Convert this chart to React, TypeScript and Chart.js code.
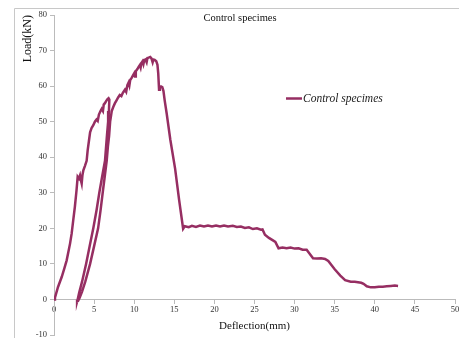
import React, { useEffect, useRef } from "react";
import { Chart, registerables } from "chart.js";

Chart.register(...registerables);

const chartTitle = "Control specimes";
const seriesName = "Control specimes";
const xTitle = "Deflection(mm)";
const yTitle = "Load(kN)";

// first loading branch
const loadX = [0, 0.12, 0.5, 0.96, 1.3, 1.58, 2.0, 2.2, 2.4, 2.6, 2.8, 2.95, 3.1, 3.24, 3.35, 3.45, 3.55, 3.66, 3.85, 4.07, 4.2, 4.35, 4.5, 4.7, 4.9, 5.1, 5.3, 5.45, 5.6, 5.8, 5.95, 6.1, 6.2, 6.35, 6.5, 6.65, 6.8, 6.9];
const loadY = [0, 0.5, 3.5, 6.3, 8.8, 11, 15.7, 18.5, 22.3, 26, 30.5, 34.5, 34.0, 34.9, 33.5, 32.6, 35.0, 36.3, 37.5, 39, 42, 44.5, 47, 48.3, 49, 50, 50.6, 50.2, 52, 53, 53.6, 53.0, 54.8, 55.2, 55.8, 56.3, 56.6, 56.2];
// unloading branch
const unloadX = [6.85, 6.75, 6.6, 6.36, 6.0, 5.65, 5.3, 4.9, 4.45, 4.0, 3.5, 3.15, 2.95, 2.88];
const unloadY = [53, 50, 46, 39, 34.5, 30, 25, 20, 15, 10, 5, 2, 0, -0.6];
// reloading branch up to peak
const reloadX = [3.0, 3.2, 3.5, 3.9, 4.5, 5.0, 5.5, 5.8, 6.07, 6.35, 6.57, 6.72, 6.87, 7.0, 7.2, 7.4, 7.6, 7.8, 8.0, 8.2, 8.4, 8.6, 8.85, 9.0, 9.15, 9.3, 9.4, 9.5, 9.7, 9.85, 10.0, 10.1, 10.2, 10.4, 10.55, 10.7, 10.8, 10.9, 11.05, 11.15, 11.25, 11.4, 11.55, 11.65, 11.8, 12.0];
const reloadY = [-0.4, 0.5, 2.2, 5, 10, 15, 20, 25, 30, 35, 39, 43, 46, 50, 53, 54.2, 55.2, 56.0, 56.8, 57.5, 57.2, 58.2, 59, 58.4, 60.3, 61, 60.2, 61.7, 62.4, 63, 63.6, 62.7, 64.2, 64.8, 65.4, 65.9, 65.2, 66.5, 67.0, 66.2, 67.3, 67.5, 66.7, 67.9, 68.0, 68.2];
// post-peak descent
const dropX = [12.15, 12.3, 12.4, 12.55, 12.75, 12.9, 13.0, 13.1, 13.2, 13.35, 13.5, 13.65, 13.8, 14.05, 14.5, 15.1, 15.6, 16.1];
const dropY = [67.8, 66.7, 67.5, 67.4, 67.0, 66.0, 63.5, 59.0, 59.6, 59.9, 59.7, 58.6, 56, 52.3, 45, 36.8, 28, 19.9];
// residual plateau and tail
const tailX = [16.3, 16.8, 17.2, 17.7, 18.2, 18.7, 19.2, 19.7, 20.2, 20.7, 21.2, 21.7, 22.3, 22.8, 23.3, 23.8, 24.3, 24.8, 25.3, 25.8, 26.0, 26.3, 26.8, 27.3, 27.6, 28.0, 28.5, 29.0, 29.5, 30.0, 30.5, 31.0, 31.5, 32.3, 32.8, 33.3, 33.8, 34.2, 35.0, 35.7, 36.3, 37.0, 37.5, 38.3, 38.6, 39.0, 39.5, 40.0, 40.5, 41.0, 41.5, 42.0, 42.5, 42.9];
const tailY = [20.6, 20.3, 20.7, 20.4, 20.8, 20.5, 20.8, 20.5, 20.8, 20.5, 20.8, 20.5, 20.7, 20.4, 20.5, 20.1, 20.3, 19.8, 20.0, 19.6, 19.7, 18.2, 17.3, 16.6, 16.2, 14.4, 14.6, 14.4, 14.6, 14.3, 14.4, 14.0, 14.0, 11.6, 11.5, 11.6, 11.4, 10.8, 8.5, 6.7, 5.4, 5.0, 5.0, 4.7, 4.4, 3.7, 3.4, 3.4, 3.6, 3.6, 3.7, 3.8, 3.9, 3.8];

const xTicks = [0, 5, 10, 15, 20, 25, 30, 35, 40, 45, 50];
const yTicks = [-10, 0, 10, 20, 30, 40, 50, 60, 70, 80];

const allX = [...loadX, ...unloadX, ...reloadX, ...dropX, ...tailX];
const allY = [...loadY, ...unloadY, ...reloadY, ...dropY, ...tailY];

const LINE = "#962E62";
const SERIF = "'Liberation Serif', 'DejaVu Serif', serif";

export default function App() {
  const ref = useRef<HTMLCanvasElement | null>(null);
  useEffect(() => {
    document.body.style.margin = "0";
    const canvas = ref.current!;
    const deco = {
      id: "deco",
      afterDraw(chart: any) {
        const ctx = chart.ctx;
        ctx.save();
        ctx.strokeStyle = "#c8c8c8";
        ctx.lineWidth = 1;
        ctx.beginPath();
        ctx.moveTo(14.5, 340);
        ctx.lineTo(14.5, 8.5);
        ctx.lineTo(460, 8.5);
        ctx.stroke();
        ctx.fillStyle = "#111";
        ctx.font = `10.5px ${SERIF}`;
        ctx.textAlign = "center";
        ctx.textBaseline = "middle";
        ctx.fillText(chartTitle, 240, 18);
        ctx.strokeStyle = LINE;
        ctx.lineWidth = 2.5;
        ctx.beginPath();
        ctx.moveTo(286, 98.5);
        ctx.lineTo(302, 98.5);
        ctx.stroke();
        ctx.font = `italic 11.5px ${SERIF}`;
        ctx.textAlign = "left";
        ctx.fillStyle = "#222";
        ctx.fillText(seriesName, 303, 99);
        ctx.restore();
      },
    };
    const chart = new Chart(canvas, {
      type: "scatter",
      data: {
        datasets: [
          {
            label: seriesName,
            data: allX.map((x, i) => ({ x, y: allY[i] })),
            showLine: true,
            borderColor: LINE,
            backgroundColor: LINE,
            borderWidth: 2.5,
            pointRadius: 0,
            tension: 0,
          },
        ],
      },
      options: {
        animation: false,
        responsive: false,
        layout: { padding: { left: 21, top: 15, right: 4, bottom: 3 } },
        plugins: { legend: { display: false }, title: { display: false }, tooltip: { enabled: false } },
        scales: {
          x: {
            type: "linear",
            position: { y: 0 } as any,
            min: 0,
            max: 50,
            afterBuildTicks: (s: any) => { s.ticks = xTicks.map((v) => ({ value: v })); },
            afterFit: (s: any) => { s.paddingLeft = 0; s.paddingRight = 0; },
            grid: { drawOnChartArea: false, drawTicks: true, tickLength: 4, color: "#bbb" },
            border: { color: "#bbb" },
            ticks: { color: "#333", font: { family: SERIF, size: 8.5 }, padding: 1, maxRotation: 0 },
            title: { display: true, text: xTitle, color: "#111", font: { family: SERIF, size: 11 }, padding: { top: 4 } },
          },
          y: {
            type: "linear",
            min: -10,
            max: 80,
            afterBuildTicks: (s: any) => { s.ticks = yTicks.map((v) => ({ value: v })); },
            afterFit: (s: any) => { s.width = 33; s.paddingTop = 0; s.paddingBottom = 0; },
            grid: { drawOnChartArea: false, drawTicks: true, tickLength: 4, color: "#bbb" },
            border: { color: "#bbb" },
            ticks: { color: "#333", font: { family: SERIF, size: 8.5 }, padding: 3 },
            title: { display: true, text: yTitle, align: "end", color: "#111", font: { family: SERIF, size: 12 }, padding: 0 },
          },
        },
      },
      plugins: [deco],
    });
    return () => chart.destroy();
  }, []);
  return <canvas ref={ref} width={459} height={338} style={{ display: "block" }} />;
}
